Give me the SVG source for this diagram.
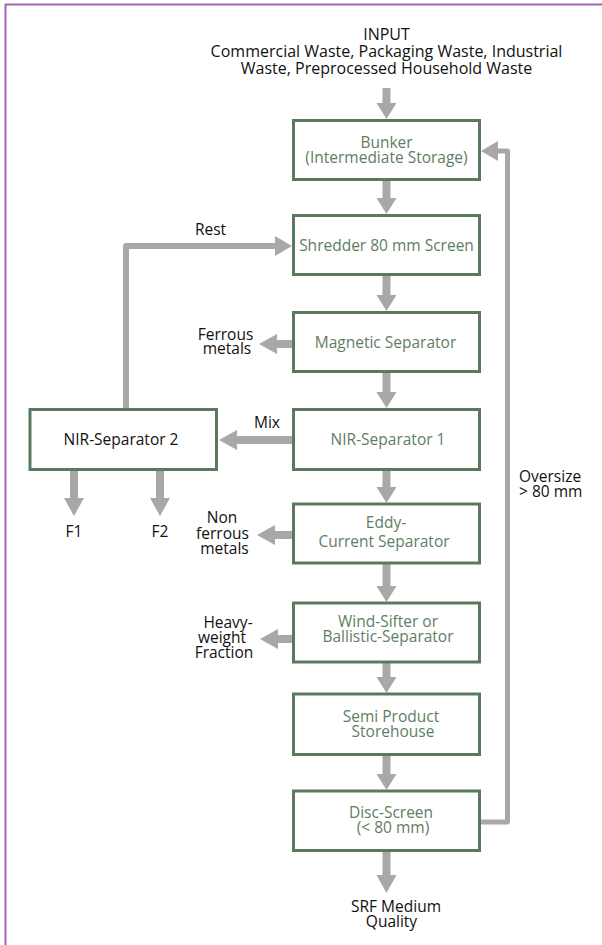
<svg xmlns="http://www.w3.org/2000/svg" width="602" height="945" viewBox="0 0 602 945">
<style>
.box{fill:#fff;stroke:#5a7a5f;stroke-width:3}
.bt{font-family:"Open Sans","Noto Sans",sans-serif;font-size:15.5px;fill:#5e7e63;text-anchor:middle}
.lt{font-family:"Open Sans","Noto Sans",sans-serif;font-size:15.5px;fill:#111;text-anchor:middle}
.sh{stroke:#a8a8a8;stroke-width:8;fill:none}
.ln{stroke:#a8a8a8;stroke-width:6;fill:none;stroke-linejoin:round}
.hd{fill:#a8a8a8}
</style>
<rect x="0" y="0" width="602" height="945" fill="#fff"/>
<path d="M5.5,945 V4.5 H602" fill="none" stroke="#a463b8" stroke-width="2"/>

<g id="connectors">
  <path class="sh" d="M386.5,88 V104"/><polygon class="hd" points="376.5,103 396.5,103 386.5,119"/>
  <path class="sh" d="M386.5,181 V199"/><polygon class="hd" points="376.5,198 396.5,198 386.5,214"/>
  <path class="sh" d="M386.5,276 V296"/><polygon class="hd" points="376.5,295 396.5,295 386.5,311"/>
  <path class="sh" d="M386.5,373 V393"/><polygon class="hd" points="376.5,392 396.5,392 386.5,408"/>
  <path class="sh" d="M386.5,471 V488"/><polygon class="hd" points="376.5,487 396.5,487 386.5,503"/>
  <path class="sh" d="M386.5,564 V587"/><polygon class="hd" points="376.5,586 396.5,586 386.5,602"/>
  <path class="sh" d="M386.5,663 V678"/><polygon class="hd" points="376.5,677 396.5,677 386.5,693"/>
  <path class="sh" d="M386.5,756 V775"/><polygon class="hd" points="376.5,774 396.5,774 386.5,790"/>
  <path class="sh" d="M386.5,852 V876"/><polygon class="hd" points="376.5,875 396.5,875 386.5,893"/>
  <path class="sh" d="M292,344 H276"/><polygon class="hd" points="277,334 277,354 259,344"/>
  <path class="sh" d="M292,440 H236"/><polygon class="hd" points="237,430 237,450 219,440"/>
  <path class="sh" d="M292,535 H274"/><polygon class="hd" points="275,525 275,545 257,535"/>
  <path class="sh" d="M292,639 H277"/><polygon class="hd" points="278,629 278,649 260,639"/>
  <path class="sh" d="M74,471 V499"/><polygon class="hd" points="64,498 84,498 74,516"/>
  <path class="sh" d="M160,471 V499"/><polygon class="hd" points="150,498 170,498 160,516"/>
  <path class="ln" d="M126,408 V246 H276"/><polygon class="hd" points="275,236 275,256 292,246"/>
  <path class="ln" style="stroke-width:5" d="M481,822 H507.5 V151 H497"/><polygon class="hd" points="498,141 498,161 481,151"/>
</g>

<g id="input">
  <text class="lt" style="font-size:16px"><tspan x="386.5" y="39.5">INPUT</tspan><tspan x="386.5" y="56.5">Commercial Waste, Packaging Waste, Industrial</tspan><tspan x="386.5" y="73.5">Waste, Preprocessed Household Waste</tspan></text>
</g>
<g id="bunker">
  <rect class="box" x="293.5" y="120.5" width="186" height="59"/>
  <text class="bt"><tspan x="386.5" y="148">Bunker</tspan><tspan x="386.5" y="163">(Intermediate Storage)</tspan></text>
</g>
<g id="shredder">
  <rect class="box" x="293.5" y="215.5" width="186" height="59"/>
  <text class="bt" x="386.5" y="250.5">Shredder 80 mm Screen</text>
</g>
<g id="magnetic">
  <rect class="box" x="293.5" y="312.5" width="186" height="59"/>
  <text class="bt" x="385.5" y="348">Magnetic Separator</text>
</g>
<g id="nir1">
  <rect class="box" x="293.5" y="409.5" width="186" height="60"/>
  <text class="bt" x="388" y="445">NIR-Separator 1</text>
</g>
<g id="nir2">
  <rect class="box" x="30" y="409.5" width="186.5" height="60"/>
  <text class="lt" x="121" y="445">NIR-Separator 2</text>
</g>
<g id="eddy">
  <rect class="box" x="293.5" y="504" width="186" height="59"/>
  <text class="bt"><tspan x="386" y="528">Eddy-</tspan><tspan x="384" y="547">Current Separator</tspan></text>
</g>
<g id="wind">
  <rect class="box" x="293.5" y="603" width="186" height="59"/>
  <text class="bt"><tspan x="388" y="626.5">Wind-Sifter or</tspan><tspan x="388" y="641.5">Ballistic-Separator</tspan></text>
</g>
<g id="semi">
  <rect class="box" x="293.5" y="694" width="186" height="60.5"/>
  <text class="bt"><tspan x="391" y="721.5">Semi Product</tspan><tspan x="393" y="736.5">Storehouse</tspan></text>
</g>
<g id="disc">
  <rect class="box" x="293.5" y="791" width="186" height="59.5"/>
  <text class="bt"><tspan x="391" y="818">Disc-Screen</tspan><tspan x="393" y="833">(&lt; 80 mm)</tspan></text>
</g>
<g id="labels">
  <text class="lt" x="210.5" y="235">Rest</text>
  <text class="lt"><tspan x="225.5" y="340">Ferrous</tspan><tspan x="227" y="354">metals</tspan></text>
  <text class="lt" x="267" y="428">Mix</text>
  <text class="lt" x="74" y="537">F1</text>
  <text class="lt" x="160" y="537">F2</text>
  <text class="lt"><tspan x="222" y="523">Non</tspan><tspan x="222.5" y="538.5">ferrous</tspan><tspan x="224.5" y="554">metals</tspan></text>
  <text class="lt"><tspan x="228" y="628">Heavy-</tspan><tspan x="222" y="643">weight</tspan><tspan x="224" y="658">Fraction</tspan></text>
  <text class="lt" style="text-anchor:start"><tspan x="519" y="481.5">Oversize</tspan><tspan x="519" y="496.5">&gt; 80 mm</tspan></text>
  <text class="lt"><tspan x="396" y="911.5">SRF Medium</tspan><tspan x="391.5" y="927">Quality</tspan></text>
</g>
</svg>
